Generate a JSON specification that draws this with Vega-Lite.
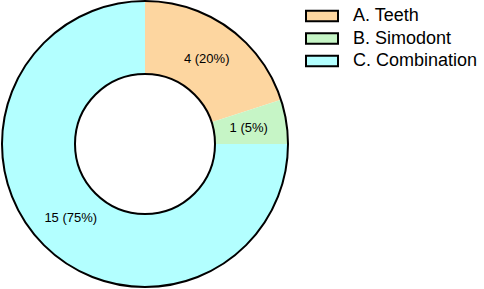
{
  "$schema": "https://vega.github.io/schema/vega-lite/v6.json",
  "width": 290,
  "height": 288,
  "padding": {"left": 0, "top": 0, "right": 194, "bottom": 1},
  "autosize": "none",
  "background": "white",
  "config": {"view": {"stroke": null}, "font": "Liberation Sans"},
  "data": {"values": [
    {"group": "A. Teeth", "count": 4, "label": "4 (20%)"},
    {"group": "B. Simodont", "count": 1, "label": "1 (5%)"},
    {"group": "C. Combination", "count": 15, "label": "15 (75%)"}
  ]},
  "resolve": {"scale": {"theta": "independent"}},
  "layer": [
    {
      "mark": {"type": "arc", "outerRadius": 143, "innerRadius": 70},
      "encoding": {
        "theta": {"field": "count", "type": "quantitative", "stack": true},
        "order": {"field": "group"},
        "color": {
          "field": "group", "type": "nominal",
          "scale": {"domain": ["A. Teeth", "B. Simodont", "C. Combination"], "range": ["#FDD6A0", "#C6F5C6", "#B3FFFF"]},
          "legend": {
            "title": null, "orient": "none", "legendX": 313, "legendY": 7,
            "symbolType": "M-2,-0.65H2V0.65H-2Z", "symbolSize": 256,
            "symbolStrokeColor": "black", "symbolStrokeWidth": 2,
            "labelFontSize": 18, "labelFont": "Liberation Sans", "labelColor": "black",
            "rowPadding": 2.5, "labelOffset": 22
          }
        }
      }
    },
    {
      "data": {"values": [{"full": 1}]},
      "mark": {"type": "arc", "outerRadius": 143, "innerRadius": 70, "fill": null, "stroke": "black", "strokeWidth": 2},
      "encoding": {"theta": {"field": "full", "type": "quantitative"}}
    },
    {
      "mark": {"type": "text", "radius": 105, "fontSize": 13, "font": "Liberation Sans", "color": "black"},
      "encoding": {
        "theta": {"field": "count", "type": "quantitative", "stack": true},
        "order": {"field": "group"},
        "text": {"field": "label"}
      }
    }
  ]
}
